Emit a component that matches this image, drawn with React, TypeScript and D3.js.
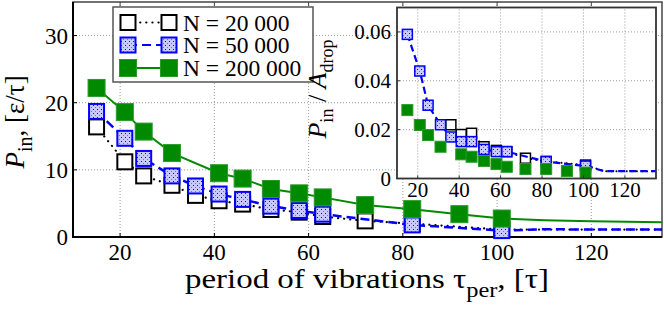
import React from "react";
import * as d3 from "d3";

// period of vibrations (tau_per) and input power, main panel
const tau20 = [15, 21, 25, 31, 36, 41, 46, 52, 58, 63, 72, 82, 101];
const pin20 = [16.4, 11.2, 9.1, 7.7, 6.2, 5.4, 4.9, 4.1, 3.7, 3.05, 2.4, 2.0, 1.1];
const tail20 = [[110, 1.1], [120, 1.1], [135, 1.1]];

const tau50 = [15, 21, 25, 31, 36, 41, 46, 52, 58, 63, 82, 101];
const pin50 = [18.7, 14.7, 11.7, 9.1, 7.6, 6.4, 5.6, 4.6, 3.95, 3.4, 1.8, 0.95];
const tail50 = [[110, 1.15], [120, 1.12], [135, 1.12]];

const tau200 = [15, 21, 25, 31, 41, 46, 52, 58, 63, 72, 82, 92, 101];
const pin200 = [22.2, 18.6, 15.7, 12.5, 9.5, 8.7, 7.15, 6.5, 5.9, 4.75, 4.15, 3.4, 2.75];
const tail200 = [[110, 2.5], [120, 2.35], [135, 2.18]];

// inset: P_in / A_drop
const itau20 = [36, 41, 46, 52, 58, 63, 72, 82, 101];
const ival20 = [0.022, 0.018, 0.0185, 0.013, 0.0115, 0.011, 0.0083, 0.007, 0.0055];
const itail20 = [[110, 0.003], [120, 0.003], [135, 0.003]];

const itau50 = [15, 21, 25, 31, 36, 41, 46, 52, 58, 63, 82, 101];
const ival50 = [0.059, 0.044, 0.030, 0.022, 0.017, 0.0151, 0.0151, 0.0119, 0.011, 0.011, 0.0069, 0.0051];
const itail50 = [[110, 0.003], [120, 0.003], [135, 0.003]];

const itau200 = [15, 21, 25, 31, 41, 46, 52, 58, 63, 72, 82, 92, 101];
const ival200 = [0.028, 0.0219, 0.0178, 0.013, 0.0099, 0.0089, 0.0072, 0.0059, 0.0048, 0.0039, 0.0039, 0.0031, 0.0024];
const itail200 = [[110, 0.0023], [120, 0.0022], [135, 0.0022]];

const legendLabels = ["N = 20 000", "N = 50 000", "N = 200 000"];
const xTicks = [20, 40, 60, 80, 100, 120];
const yTicks = [0, 10, 20, 30];
const iyTicks = [0, 0.02, 0.04, 0.06];
const iyTickLabels = ["0", "0.02", "0.04", "0.06"];

const FONT = "'Liberation Serif', 'DejaVu Serif', serif";
const GREEN = "#008a00";
const BLUE = "#0000ff";

const x = d3.scaleLinear().domain([10, 135]).range([73, 662]);
const y = d3.scaleLinear().domain([0, 35]).range([237, 2]);
const ix = d3.scaleLinear().domain([10, 135]).range([397, 656]);
const iy = d3.scaleLinear().domain([0, 0.07]).range([178.5, 7.5]);

const zip = (a, b) => a.map((v, i) => [v, b[i]]);

function Marker({ cx, cy, s, kind }) {
  if (kind === 0)
    return <rect x={cx - s / 2} y={cy - s / 2} width={s} height={s} fill="white" stroke="black" strokeWidth={s > 12 ? 2 : 1.5} />;
  if (kind === 1)
    return <rect x={cx - s / 2} y={cy - s / 2} width={s} height={s} fill="url(#dots)" stroke={BLUE} strokeWidth={s > 12 ? 2 : 1.5} />;
  return <rect x={cx - s / 2} y={cy - s / 2} width={s} height={s} fill={GREEN} stroke="#2a9a2a" strokeWidth={1} />;
}

function Series({ pts, tail, sx, sy, kind, s, dash, width }) {
  const line = d3.line().x(d => sx(d[0])).y(d => sy(d[1]));
  const color = kind === 0 ? "black" : kind === 1 ? BLUE : GREEN;
  return (
    <g>
      <path d={line([...pts, ...tail])} fill="none" stroke={color} strokeWidth={width} strokeDasharray={dash} strokeLinecap={kind === 0 ? "round" : "butt"} />
      {pts.map((d, i) => <Marker key={i} cx={sx(d[0])} cy={sy(d[1])} s={s} kind={kind} />)}
    </g>
  );
}

export default function App() {
  const [x0, x1] = x.range();
  const [y0, y1] = y.range();
  const [ix0, ix1] = ix.range();
  const [iy0, iy1] = iy.range();
  const grid = "#9a9a9a";
  const dashes = ["0.1,6", "9,5", null];
  const legendRows = [22.5, 45, 68];
  return (
    <svg width={664} height={309} style={{ position: "absolute", left: 0, top: 0, background: "white" }} fontFamily={FONT}>
      <defs>
        <pattern id="dots" width={4} height={4} patternUnits="userSpaceOnUse">
          <rect width={4} height={4} fill="#c9c9ff" />
          <rect x={1} y={1} width={1} height={1} fill="#1010a0" />
          <rect x={3} y={3} width={1} height={1} fill="#7070e0" />
        </pattern>
      </defs>

      {/* main grid */}
      {xTicks.map(t => <line key={"gx" + t} x1={x(t)} x2={x(t)} y1={y0} y2={y1} stroke={grid} strokeDasharray="1,2" />)}
      {yTicks.slice(1).map(t => <line key={"gy" + t} x1={x0} x2={x1} y1={y(t)} y2={y(t)} stroke={grid} strokeDasharray="1,2" />)}

      {/* frame */}
      <rect x={x0} y={y1} width={x1 - x0} height={y0 - y1} fill="none" stroke="#444" strokeWidth={1.5} />
      <line x1={x0} x2={x0} y1={y1} y2={y0 + 1} stroke="black" strokeWidth={2} />
      <line x1={x0} x2={x1} y1={y0} y2={y0} stroke="black" strokeWidth={2} />
      {xTicks.map(t => (
        <g key={"tx" + t}>
          <line x1={x(t)} x2={x(t)} y1={y0} y2={y0 - 4} stroke="black" />
          <line x1={x(t)} x2={x(t)} y1={y1} y2={y1 + 4} stroke="#444" />
          <text x={x(t)} y={260} fontSize={23} textAnchor="middle">{t}</text>
        </g>
      ))}
      {yTicks.map(t => (
        <g key={"ty" + t}>
          <line x1={x0} x2={x0 + 4} y1={y(t)} y2={y(t)} stroke="black" />
          <text x={68} y={y(t)} dy="0.35em" fontSize={23} textAnchor="end">{t}</text>
        </g>
      ))}

      {/* axis titles */}
      <text transform="translate(185,288) scale(1.22,1)" fontSize={27}>
        period of vibrations τ<tspan fontSize={20} dy={9}>per</tspan><tspan dy={-9}>, [τ]</tspan>
      </text>
      <text transform="translate(24,122) rotate(-90)" fontSize={27} textAnchor="middle">
        <tspan fontStyle="italic">P</tspan><tspan fontSize={20} dy={8}>in</tspan><tspan dy={-8}>, [ε/τ]</tspan>
      </text>

      {/* main series */}
      <Series pts={zip(tau20, pin20)} tail={tail20} sx={x} sy={y} kind={0} s={15} dash={dashes[0]} width={2.2} />
      <Series pts={zip(tau50, pin50)} tail={tail50} sx={x} sy={y} kind={1} s={15} dash={dashes[1]} width={2.5} />
      <Series pts={zip(tau200, pin200)} tail={tail200} sx={x} sy={y} kind={2} s={17} dash={dashes[2]} width={2} />

      {/* legend */}
      <rect x={113} y={7} width={200} height={75} fill="white" stroke="#555" strokeWidth={1.5} />
      {legendLabels.map((lab, k) => (
        <g key={"lg" + k}>
          <line x1={128} x2={169} y1={legendRows[k]} y2={legendRows[k]} stroke={k === 0 ? "black" : k === 1 ? BLUE : GREEN} strokeWidth={2.2} strokeDasharray={k === 0 ? "0.1,6" : k === 1 ? "9,5" : null} strokeLinecap={k === 0 ? "round" : "butt"} />
          <Marker cx={128} cy={legendRows[k]} s={k === 2 ? 17 : 15} kind={k} />
          <Marker cx={169} cy={legendRows[k]} s={k === 2 ? 17 : 15} kind={k} />
          <text x={183} y={legendRows[k]} dy="0.35em" fontSize={23.5}>{lab}</text>
        </g>
      ))}

      {/* inset */}
      <rect x={ix0} y={iy1} width={ix1 - ix0} height={iy0 - iy1} fill="white" />
      {xTicks.map(t => <line key={"igx" + t} x1={ix(t)} x2={ix(t)} y1={iy0} y2={iy1} stroke={grid} strokeDasharray="1,2" />)}
      {iyTicks.slice(1).map(t => <line key={"igy" + t} x1={ix0} x2={ix1} y1={iy(t)} y2={iy(t)} stroke={grid} strokeDasharray="1,2" />)}
      <Series pts={zip(itau20, ival20)} tail={itail20} sx={ix} sy={iy} kind={0} s={10} dash="0.1,5" width={2} />
      <Series pts={zip(itau50, ival50)} tail={itail50} sx={ix} sy={iy} kind={1} s={10} dash="7,4" width={2.2} />
      <Series pts={zip(itau200, ival200)} tail={itail200} sx={ix} sy={iy} kind={2} s={11} dash="0.1,5" width={2} />
      <rect x={ix0} y={iy1} width={ix1 - ix0} height={iy0 - iy1} fill="none" stroke="#333" strokeWidth={1.8} />
      {xTicks.map(t => (
        <g key={"itx" + t}>
          <line x1={ix(t)} x2={ix(t)} y1={iy0} y2={iy0 - 3} stroke="#333" />
          <text x={ix(t)} y={197} fontSize={21} textAnchor="middle">{t}</text>
        </g>
      ))}
      {iyTicks.map((t, i) => (
        <g key={"ity" + t}>
          <line x1={ix0} x2={ix0 + 3} y1={iy(t)} y2={iy(t)} stroke="#333" />
          <text x={391} y={iy(t)} dy="0.35em" fontSize={21} textAnchor="end">{iyTickLabels[i]}</text>
        </g>
      ))}
      <text transform="translate(326,89) rotate(-90)" fontSize={26} textAnchor="middle">
        <tspan fontStyle="italic">P</tspan><tspan fontSize={18} dy={7}>in</tspan><tspan dy={-7}> / </tspan><tspan fontStyle="italic">A</tspan><tspan fontSize={18} dy={7}>drop</tspan>
      </text>
    </svg>
  );
}
